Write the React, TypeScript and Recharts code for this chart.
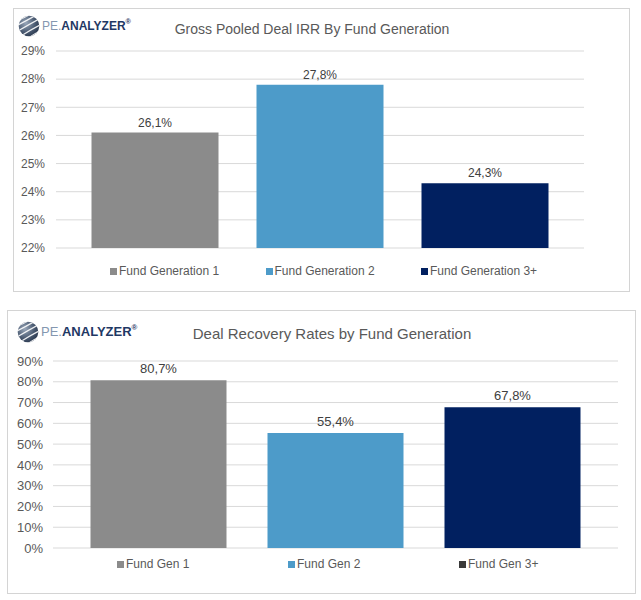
import React from 'react';
import { BarChart, Bar, XAxis, YAxis, CartesianGrid, LabelList, Legend } from 'recharts';

const irrTitle = 'Gross Pooled Deal IRR By Fund Generation';
const irrSeries = ['Fund Generation 1', 'Fund Generation 2', 'Fund Generation 3+'];
const irrValues = [26.1, 27.8, 24.3];
const irrTicks = [22, 23, 24, 25, 26, 27, 28, 29];

const recTitle = 'Deal Recovery Rates by Fund Generation';
const recSeries = ['Fund Gen 1', 'Fund Gen 2', 'Fund Gen 3+'];
const recValues = [80.7, 55.4, 67.8];
const recTicks = [0, 10, 20, 30, 40, 50, 60, 70, 80, 90];

const barColors = ['#8b8b8b', '#4d9bc9', '#012060'];
const irrLegendColors = ['#8b8b8b', '#4d9bc9', '#012060'];
const recLegendColors = ['#8b8b8b', '#4d9bc9', '#3a3a3a'];

const FONT = '"Liberation Sans", Arial, Helvetica, sans-serif';
const TEXT = '#595959';

const fmtPct = (v: any) => `${v}%`;
const fmtLabel = (v: any) => `${Number(v).toFixed(1).replace('.', ',')}%`;

function Logo({ id, left, top, fontSize }: { id: string; left: number; top: number; fontSize: number }) {
  return (
    <div
      style={{
        position: 'absolute',
        left,
        top,
        display: 'flex',
        alignItems: 'center',
        fontFamily: FONT,
        fontSize,
        lineHeight: '22px',
        whiteSpace: 'nowrap',
      }}
    >
      <svg width={22} height={22} viewBox="0 0 22 22" style={{ marginRight: 2 }}>
        <defs>
          <radialGradient id={`${id}-g`} cx="35%" cy="35%" r="75%">
            <stop offset="0%" stopColor="#9aa8ba" />
            <stop offset="60%" stopColor="#4b5b72" />
            <stop offset="100%" stopColor="#27344a" />
          </radialGradient>
          <clipPath id={`${id}-c`}>
            <circle cx={11} cy={11} r={10.3} />
          </clipPath>
        </defs>
        <circle cx={11} cy={11} r={10.3} fill={`url(#${id}-g)`} />
        <g clipPath={`url(#${id}-c)`} stroke="#ffffff" strokeWidth={1.4} fill="none" opacity={0.9}>
          <path d="M-2 6 Q 8 2 14 -2" />
          <path d="M-2 11 Q 10 5 20 -1" />
          <path d="M0 16 Q 12 9 23 3" />
          <path d="M3 21 Q 14 14 24 9" />
          <path d="M9 24 Q 18 18 24 15" />
        </g>
      </svg>
      <span style={{ color: '#8497b0' }}>PE.</span>
      <span style={{ color: '#1f3864', fontWeight: 700 }}>ANALYZER</span>
      <span style={{ color: '#1f3864', fontWeight: 700, fontSize: '0.6em', position: 'relative', top: -4 }}>®</span>
    </div>
  );
}

type PanelProps = {
  id: string;
  left: number;
  top: number;
  width: number;
  height: number;
  title: string;
  titleX: number;
  titleY: number;
  titleSize: number;
  logoLeft: number;
  logoTop: number;
  logoSize: number;
  series: string[];
  values: number[];
  ticks: number[];
  domain: [number, number];
  legendColors: string[];
  margin: { top: number; right: number; bottom: number; left: number };
  yWidth: number;
  tickMargin: number;
  tickSize: number;
  labelSize: number;
  labelOffset: number;
  barCategoryGap: number;
  barGap: number;
  legendLeft: number;
  legendTop: number;
  legendSlot: number;
};

function Panel(p: PanelProps) {
  const row: any = { name: 'all' };
  p.series.forEach((s, i) => {
    row[`s${i}`] = p.values[i];
  });
  const data = [row];
  const innerW = p.width - 2;
  const innerH = p.height - 2;

  const renderLegend = () => (
    <div style={{ display: 'flex', fontFamily: FONT, fontSize: 12, color: TEXT, lineHeight: '16px' }}>
      {p.series.map((s, i) => (
        <div key={s} style={{ width: p.legendSlot, display: 'flex', alignItems: 'center', whiteSpace: 'nowrap' }}>
          <span style={{ display: 'inline-block', width: 7, height: 7, background: p.legendColors[i], marginRight: 2 }} />
          <span>{s}</span>
        </div>
      ))}
    </div>
  );

  return (
    <div
      style={{
        position: 'absolute',
        left: p.left,
        top: p.top,
        width: p.width,
        height: p.height,
        border: '1px solid #d4d4d4',
        boxSizing: 'border-box',
        background: '#ffffff',
      }}
    >
      <Logo id={p.id} left={p.logoLeft} top={p.logoTop} fontSize={p.logoSize} />
      <div
        style={{
          position: 'absolute',
          left: p.titleX,
          top: p.titleY,
          transform: 'translate(-50%, -50%)',
          fontFamily: FONT,
          fontSize: p.titleSize,
          color: TEXT,
          whiteSpace: 'nowrap',
          lineHeight: 1,
        }}
      >
        {p.title}
      </div>
      <div style={{ position: 'absolute', left: 0, top: 0 }}>
        <BarChart
          width={innerW}
          height={innerH}
          data={data}
          margin={p.margin}
          barCategoryGap={p.barCategoryGap}
          barGap={p.barGap}
        >
          <CartesianGrid vertical={false} stroke="#d9d9d9" />
          <XAxis dataKey="name" type="category" hide />
          <YAxis
            type="number"
            domain={p.domain}
            ticks={p.ticks}
            interval={0}
            width={p.yWidth}
            axisLine={false}
            tickLine={false}
            tickSize={0}
            tickMargin={p.tickMargin}
            tickFormatter={fmtPct}
            tick={{ fill: TEXT, fontSize: p.tickSize, fontFamily: FONT }}
          />
          <Legend
            layout="horizontal"
            verticalAlign="middle"
            align="center"
            content={renderLegend}
            wrapperStyle={{ left: p.legendLeft, top: p.legendTop, width: 3 * p.legendSlot, height: 16 }}
          />
          {p.series.map((s, i) => (
            <Bar key={s} dataKey={`s${i}`} name={s} fill={barColors[i]} isAnimationActive={false}>
              <LabelList
                dataKey={`s${i}`}
                position="top"
                offset={p.labelOffset}
                formatter={fmtLabel}
                style={{ fill: '#404040', fontSize: p.labelSize, fontFamily: FONT }}
              />
            </Bar>
          ))}
        </BarChart>
      </div>
    </div>
  );
}

export default function App() {
  return (
    <div style={{ position: 'absolute', left: 0, top: 0, width: 641, height: 600, background: '#ffffff' }}>
      <Panel
        id="irr"
        left={13}
        top={8}
        width={617}
        height={284}
        title={irrTitle}
        titleX={298}
        titleY={20}
        titleSize={14}
        logoLeft={4}
        logoTop={6}
        logoSize={12}
        series={irrSeries}
        values={irrValues}
        ticks={irrTicks}
        domain={[22, 29]}
        legendColors={irrLegendColors}
        margin={{ top: 42, right: 45, bottom: 43, left: 0 }}
        yWidth={42}
        tickMargin={11}
        tickSize={12}
        labelSize={12}
        labelOffset={6}
        barCategoryGap={35.5}
        barGap={38}
        legendLeft={96}
        legendTop={254}
        legendSlot={155.5}
      />
      <Panel
        id="rec"
        left={7}
        top={310}
        width={629}
        height={284}
        title={recTitle}
        titleX={324}
        titleY={22}
        titleSize={15}
        logoLeft={9}
        logoTop={10}
        logoSize={13}
        series={recSeries}
        values={recValues}
        ticks={recTicks}
        domain={[0, 90]}
        legendColors={recLegendColors}
        margin={{ top: 50, right: 17, bottom: 45, left: 0 }}
        yWidth={45}
        tickMargin={10}
        tickSize={13}
        labelSize={13}
        labelOffset={7}
        barCategoryGap={37.5}
        barGap={41}
        legendLeft={109}
        legendTop={245}
        legendSlot={171}
      />
    </div>
  );
}
